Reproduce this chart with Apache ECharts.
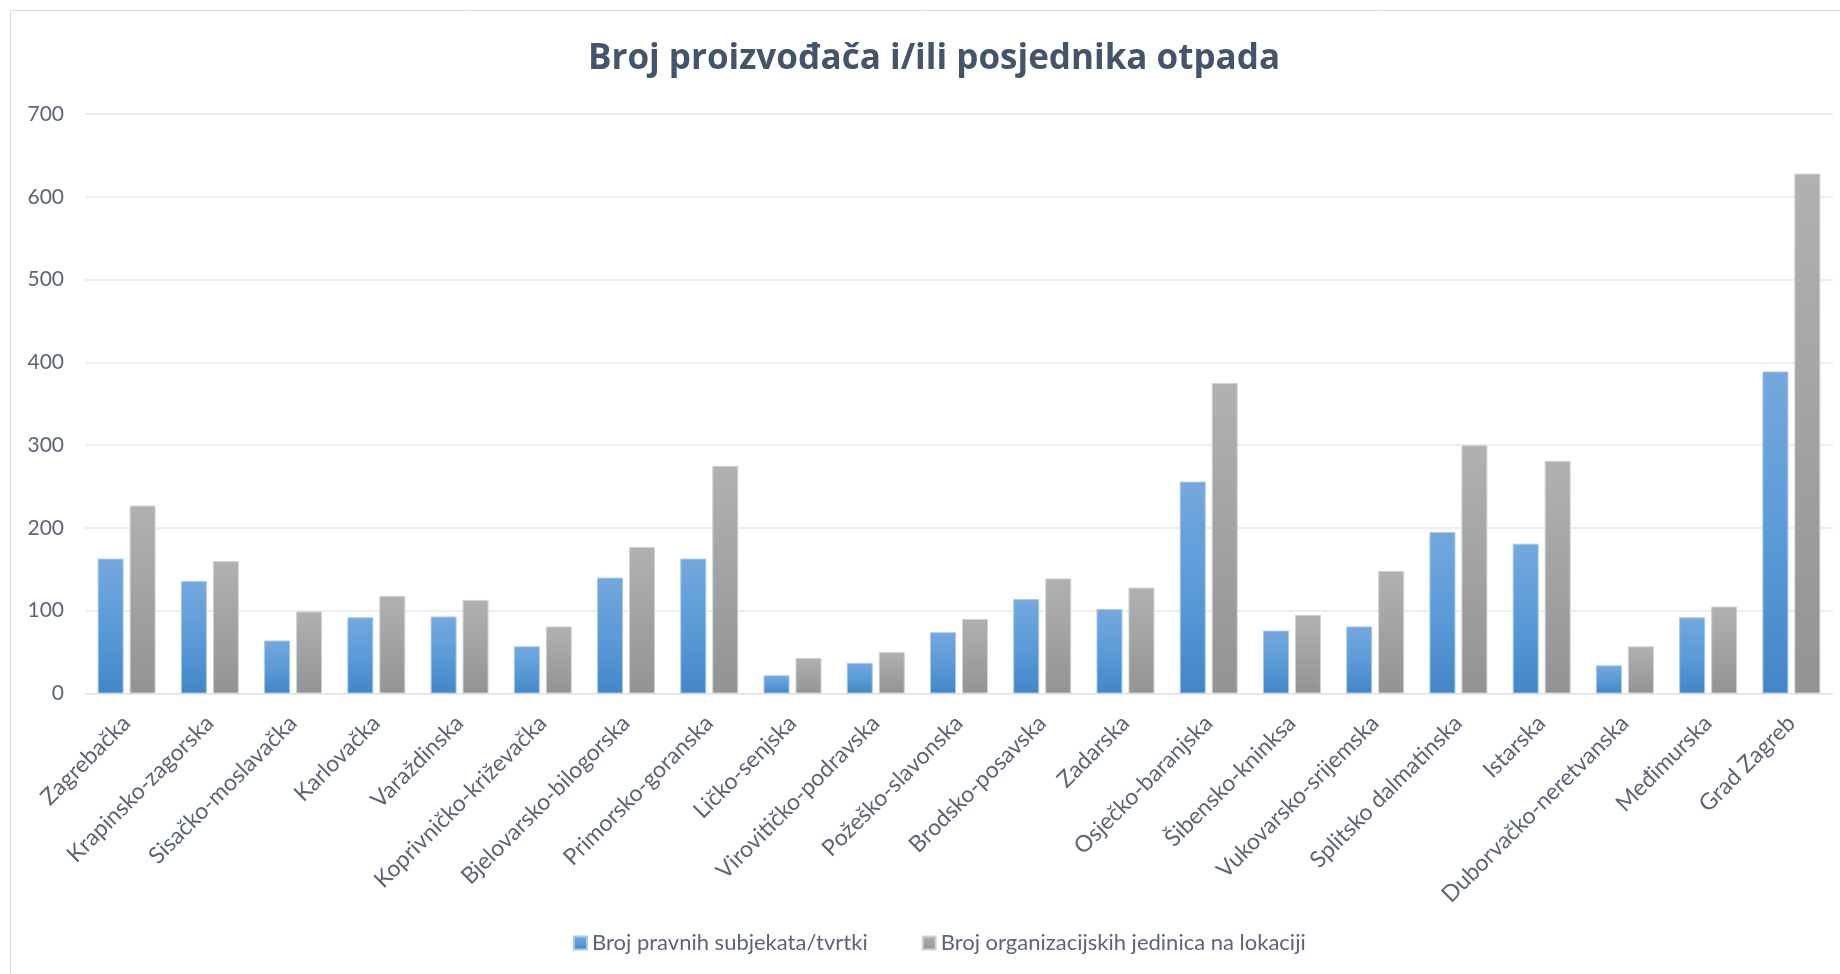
<!DOCTYPE html>
<html>
<head>
<meta charset="utf-8">
<script src="https://cdn.jsdelivr.net/npm/echarts@6/dist/echarts.min.js"></script>
<style>
html,body{margin:0;padding:0;background:#fff;}
#chart{width:1840px;height:974px;}
</style>
</head>
<body>
<div id="chart"></div>
<script>
const titleText = 'Broj proizvođača i/ili posjednika otpada';
const categories = ['Zagrebačka','Krapinsko-zagorska','Sisačko-moslavačka','Karlovačka','Varaždinska','Koprivničko-križevačka','Bjelovarsko-bilogorska','Primorsko-goranska','Ličko-senjska','Virovitičko-podravska','Požeško-slavonska','Brodsko-posavska','Zadarska','Osječko-baranjska','Šibensko-kninksa','Vukovarsko-srijemska','Splitsko dalmatinska','Istarska','Duborvačko-neretvanska','Međimurska','Grad Zagreb'];
const seriesNames = ['Broj pravnih subjekata/tvrtki','Broj organizacijskih jedinica na lokaciji'];
const pravniSubjekti = [163,136,64,92,93,57,140,163,22,37,74,114,102,256,76,81,195,181,34,92,389];
const orgJedinice = [227,160,99,118,113,81,177,275,43,50,90,139,128,375,95,148,300,281,57,105,628];
const yTicks = {min:0, max:700, interval:100};

const FONT = 'Lato, "Open Sans", sans-serif';
const TXT = '#5b6577';

const blueGrad = new echarts.graphic.LinearGradient(0,0,0,1,[{offset:0,color:'#74a8dd'},{offset:0.5,color:'#5b9bd8'},{offset:1,color:'#4386c7'}]);
const grayGrad = new echarts.graphic.LinearGradient(0,0,0,1,[{offset:0,color:'#b1b1b1'},{offset:1,color:'#939393'}]);

const chart = echarts.init(document.getElementById('chart'), null, {renderer:'canvas'});
chart.setOption({
  animation:false,
  backgroundColor:'#ffffff',
  graphic:[{type:'rect', shape:{x:10.5,y:10.5,width:1900,height:1000}, style:{fill:'none',stroke:'#dadde3',lineWidth:1}, silent:true, z:-1}],
  title:{
    text:titleText, left:929, top:37, textAlign:'center',
    textStyle:{fontFamily:'"Open Sans", sans-serif', fontWeight:'bold', fontSize:35, color:'#44546a'}
  },
  legend:{
    data:seriesNames, left:568, top:927, itemWidth:13, itemHeight:13, itemGap:54, icon:'rect',
    textStyle:{fontFamily:FONT, fontSize:22, color:TXT}
  },
  grid:{left:85, right:7, top:114, bottom:280.5, containLabel:false},
  xAxis:{
    type:'category', data:categories,
    axisLine:{show:true, lineStyle:{color:'#dde2ea', width:1}},
    axisTick:{show:false},
    axisLabel:{rotate:45, interval:0, margin:26, fontFamily:FONT, fontSize:23, color:TXT}
  },
  yAxis:{
    type:'value', min:yTicks.min, max:yTicks.max, interval:yTicks.interval,
    axisLine:{show:false}, axisTick:{show:false},
    axisLabel:{margin:21, fontFamily:FONT, fontSize:21, color:TXT},
    splitLine:{lineStyle:{color:'#e3e8ef', width:1.5}}
  },
  series:[
    {name:seriesNames[0], type:'bar', data:pravniSubjekti, barWidth:26, barGap:'23%',
     itemStyle:{color:blueGrad, borderColor:'#a8c8ec', borderWidth:1}},
    {name:seriesNames[1], type:'bar', data:orgJedinice, barWidth:26, barGap:'23%',
     itemStyle:{color:grayGrad, borderColor:'#d2d2d2', borderWidth:1}}
  ]
});
</script>
</body>
</html>
